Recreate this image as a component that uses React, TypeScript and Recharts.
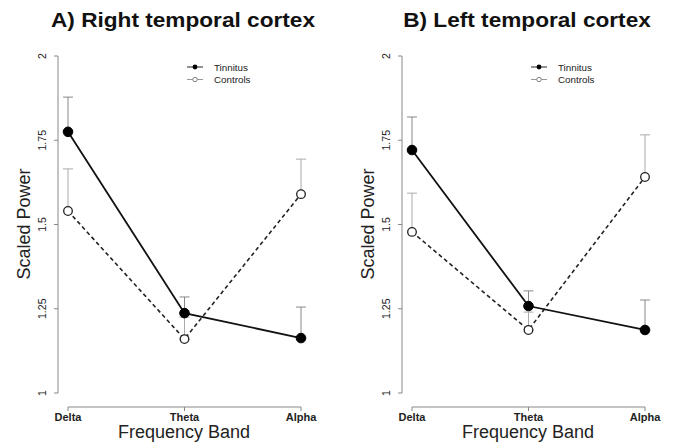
import { LineChart, Line, XAxis, YAxis, ErrorBar, Legend } from "recharts";

const bands = ["Delta", "Theta", "Alpha"];
const yTicks = [1, 1.25, 1.5, 1.75, 2];

// A) right temporal cortex
const rightTinnitus = [1.775, 1.237, 1.163];
const rightTinnitusErr = [0.103, 0.048, 0.092];
const rightControls = [1.54, 1.16, 1.59];
const rightControlsErr = [0.125, 0.065, 0.104];

// B) left temporal cortex
const leftTinnitus = [1.721, 1.258, 1.187];
const leftTinnitusErr = [0.098, 0.045, 0.089];
const leftControls = [1.478, 1.187, 1.641];
const leftControlsErr = [0.115, 0.053, 0.125];

const font = '"Liberation Sans", Arial, Helvetica, sans-serif';
const axisGray = "#888";

function buildRows(tin: number[], tinErr: number[], con: number[], conErr: number[]) {
  return bands.map((band, i) => ({
    band,
    tinnitus: tin[i],
    controls: con[i],
    // one-sided (upper) error bars
    tinErr: [0, tinErr[i]],
    conErr: [0, conErr[i]],
  }));
}

const YTick = (props: any) => {
  const { y, payload } = props;
  return (
    <text
      x={42}
      y={y}
      transform={`rotate(-90, 42, ${y})`}
      textAnchor="middle"
      dominantBaseline="central"
      fontSize={10.5}
      fill="#222"
      fontFamily={font}
    >
      {payload.value}
    </text>
  );
};

const LegendBox = () => (
  <svg width={90} height={28} style={{ display: "block" }}>
    <line x1={3} x2={19} y1={6} y2={6} stroke="#222" strokeWidth={1} />
    <circle cx={11} cy={6} r={2.4} fill="#000" />
    <text x={30} y={6} dominantBaseline="central" fontSize={9.8} fill="#222" fontFamily={font}>
      Tinnitus
    </text>
    <line x1={3} x2={19} y1={18.5} y2={18.5} stroke="#999" strokeWidth={1} />
    <circle cx={11} cy={18.5} r={2.2} fill="#fff" stroke="#777" strokeWidth={0.9} />
    <text x={30} y={18.5} dominantBaseline="central" fontSize={9.8} fill="#222" fontFamily={font}>
      Controls
    </text>
  </svg>
);

const overlayText = {
  position: "absolute" as const,
  width: "max-content",
  whiteSpace: "nowrap" as const,
  fontFamily: font,
  color: "#222",
};

function Panel({ title, rows, left }: { title: string; rows: any[]; left: number }) {
  return (
    <div style={{ position: "absolute", left, top: 0, width: 336, height: 443 }}>
      <div
        style={{
          ...overlayText,
          left: 183,
          top: 20,
          transform: "translate(-50%, -50%) scaleX(1.16)",
          fontWeight: 700,
          fontSize: 19.5,
          color: "#111",
        }}
      >
        {title}
      </div>
      <div
        style={{
          ...overlayText,
          left: 24,
          top: 224,
          transform: "translate(-50%, -50%) rotate(-90deg)",
          fontSize: 18,
        }}
      >
        Scaled Power
      </div>
      <div style={{ ...overlayText, left: 184, top: 432, transform: "translate(-50%, -50%)", fontSize: 18 }}>
        Frequency Band
      </div>
      <LineChart width={336} height={443} data={rows} margin={{ top: 56, right: 35, left: 0, bottom: 0 }}>
        {/* empty default axes sit next to the plot and keep the drawn axes off it, as in R */}
        <XAxis dataKey="band" height={14} tick={false} axisLine={false} tickLine={false} />
        <YAxis domain={[1, 2]} width={10} tick={false} axisLine={false} tickLine={false} />
        <XAxis
          xAxisId="main"
          dataKey="band"
          height={36}
          interval={0}
          tickSize={4}
          tickMargin={2}
          stroke={axisGray}
          axisLine={{ stroke: axisGray, strokeWidth: 1 }}
          tickLine={{ stroke: axisGray, strokeWidth: 1 }}
          tick={{ fontSize: 11, fontWeight: 600, fill: "#222", fontFamily: font }}
        />
        <YAxis
          yAxisId="main"
          domain={[1, 2]}
          ticks={yTicks}
          width={58}
          tickSize={4}
          stroke={axisGray}
          tickLine={{ stroke: axisGray }}
          axisLine={{ stroke: axisGray }}
          tick={<YTick />}
        />
        <Line
          xAxisId="main"
          yAxisId="main"
          dataKey="controls"
          stroke="#222"
          strokeWidth={1.6}
          strokeDasharray="4 3"
          dot={{ r: 4.3, fill: "#fff", stroke: "#222", strokeWidth: 1.3, strokeDasharray: "0" }}
          isAnimationActive={false}
        >
          <ErrorBar dataKey="conErr" width={5} stroke="#aaa" strokeWidth={1} direction="y" />
        </Line>
        <Line
          xAxisId="main"
          yAxisId="main"
          dataKey="tinnitus"
          stroke="#111"
          strokeWidth={1.8}
          dot={{ r: 4.8, fill: "#000", stroke: "#000", strokeWidth: 1 }}
          isAnimationActive={false}
        >
          <ErrorBar dataKey="tinErr" width={5} stroke="#888" strokeWidth={1} direction="y" />
        </Line>
        <Legend
          layout="vertical"
          align="center"
          verticalAlign="middle"
          wrapperStyle={{ left: 184, top: 61, width: 90 }}
          content={() => <LegendBox />}
        />
      </LineChart>
    </div>
  );
}

export default function App() {
  return (
    <div style={{ position: "absolute", left: 0, top: 0, width: 673, height: 443, background: "#fff" }}>
      <Panel
        title="A) Right temporal cortex"
        rows={buildRows(rightTinnitus, rightTinnitusErr, rightControls, rightControlsErr)}
        left={0}
      />
      <Panel
        title="B) Left temporal cortex"
        rows={buildRows(leftTinnitus, leftTinnitusErr, leftControls, leftControlsErr)}
        left={344}
      />
    </div>
  );
}
